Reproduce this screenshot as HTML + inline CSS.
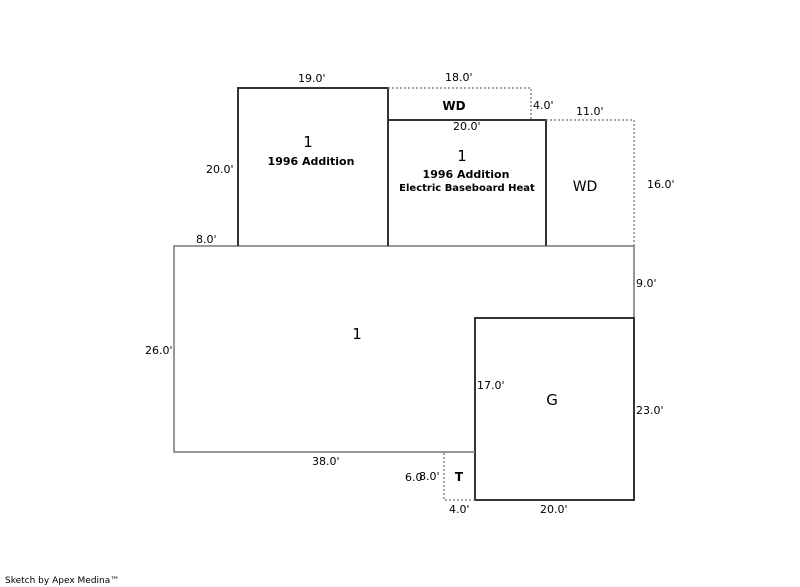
<!DOCTYPE html>
<html><head><style>
html,body{margin:0;padding:0;background:#fff;}
svg{display:block;}
text{font-family:"DejaVu Sans","Liberation Sans",sans-serif;fill:#000;}
.d{font-size:11px;}
</style></head><body>
<svg width="800" height="587" viewBox="0 0 800 587">
<!-- main body -->
<polyline points="475,452 174,452 174,246 634,246 634,318" fill="none" stroke="#777" stroke-width="1.5"/>
<!-- addition 1 -->
<polyline points="238,246 238,88 388,88 388,246" fill="none" stroke="#333" stroke-width="2"/>
<!-- addition 2 -->
<polyline points="388,120 546,120 546,246" fill="none" stroke="#333" stroke-width="2"/>
<!-- WD top -->
<polyline points="388,88 531,88 531,120" fill="none" stroke="#888" stroke-width="1.5" stroke-dasharray="2,2"/>
<!-- WD right -->
<polyline points="546,120 634,120 634,246 546,246" fill="none" stroke="#888" stroke-width="1.5" stroke-dasharray="2,2"/>
<!-- G -->
<rect x="475" y="318" width="159" height="182" fill="none" stroke="#333" stroke-width="2"/>
<!-- T -->
<polyline points="475,452 444,452 444,500 475,500" fill="none" stroke="#888" stroke-width="1.5" stroke-dasharray="2,2"/>

<text class="d" x="298" y="82">19.0'</text>
<text class="d" x="445" y="81">18.0'</text>
<text class="d" x="206" y="173">20.0'</text>
<text class="d" x="196" y="243">8.0'</text>
<text class="d" x="533" y="109">4.0'</text>
<text class="d" x="453" y="130">20.0'</text>
<text class="d" x="576" y="115">11.0'</text>
<text class="d" x="647" y="188">16.0'</text>
<text class="d" x="636" y="287">9.0'</text>
<text class="d" x="145" y="354">26.0'</text>
<text class="d" x="477" y="389">17.0'</text>
<text class="d" x="636" y="414">23.0'</text>
<text class="d" x="312" y="465">38.0'</text>
<text class="d" x="405" y="481">6.0</text>
<text class="d" x="419" y="480">8.0'</text>
<text class="d" x="449" y="513">4.0'</text>
<text class="d" x="540" y="513">20.0'</text>

<text x="308" y="147" font-size="15" text-anchor="middle">1</text>
<text x="311" y="165" font-size="11" font-weight="bold" text-anchor="middle">1996 Addition</text>
<text x="462" y="161" font-size="15" text-anchor="middle">1</text>
<text x="466" y="178" font-size="11" font-weight="bold" text-anchor="middle">1996 Addition</text>
<text x="467" y="191" font-size="10" font-weight="bold" text-anchor="middle">Electric Baseboard Heat</text>
<text x="454" y="110" font-size="12" font-weight="bold" text-anchor="middle">WD</text>
<text x="585" y="191" font-size="14" text-anchor="middle">WD</text>
<text x="357" y="339" font-size="15" text-anchor="middle">1</text>
<text x="552" y="405" font-size="15" text-anchor="middle">G</text>
<text x="459" y="481" font-size="12" font-weight="bold" text-anchor="middle">T</text>
<text x="5" y="583" font-size="9">Sketch by Apex Medina™</text>
</svg>
</body></html>
